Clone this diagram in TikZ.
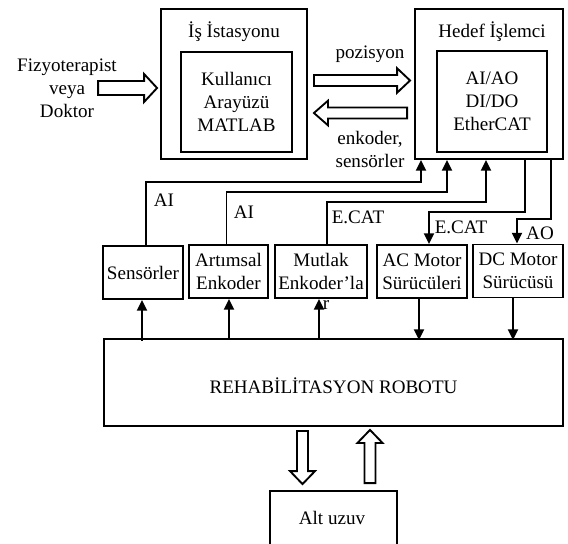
\documentclass[tikz,border=0pt]{standalone}
\usepackage{fontspec}
\setmainfont{Liberation Serif}
\usetikzlibrary{arrows.meta,calc}
\tikzset{
  box/.style 2 args={draw, line width=1.4pt, align=center, inner sep=0pt,
    minimum width=#1*0.75pt, minimum height=#2*0.75pt},
  txt/.style={align=center, inner sep=0pt},
  conn/.style={line width=1.4pt, -{Triangle[length=8pt,width=7.5pt]}},
  hollow/.style={draw, line width=1.4pt, line join=miter, fill=white},
}
\newcommand{\hollowarr}[5]{%
  \coordinate (hA) at (#1);
  \coordinate (hB) at (#2);
  \coordinate (hH) at ($(hB)!#5!(hA)$);
  \draw[hollow] ($(hA)!#3!90:(hB)$) -- ($(hH)!#3!90:(hB)$) -- ($(hH)!#4!90:(hB)$)
    -- (hB) -- ($(hH)!#4!-90:(hB)$) -- ($(hH)!#3!-90:(hB)$) -- ($(hA)!#3!-90:(hB)$) -- cycle;
}
\begin{document}
\begin{tikzpicture}[x=0.75pt, y=-0.75pt, font=\fontsize{14.3}{17.25}\selectfont]
\useasboundingbox (0,0) rectangle (568,543);

% workstation
\node[box={146}{150}] (ws) at (234,84) {};
\node[txt] (wst) at (234,32) {İş İstasyonu};
\node[box={111}{100}] (ui) at (236.5,102) {Kullanıcı\\Arayüzü\\MATLAB};

% target processor
\node[box={148}{150}] (tp) at (489,84) {};
\node[txt] (tpt) at (492,32) {Hedef İşlemci};
\node[box={110}{101}] (io) at (492,101.5) {AI/AO\\DI/DO\\EtherCAT};

% operator
\node[txt] (fz) at (67,88) {Fizyoterapist\\veya\\Doktor};

% middle boxes
\node[box={80}{53}] (sens) at (143,272.5) {Sensörler};
\node[box={79}{53}] (art) at (228.5,271.5) {Artımsal\\Enkoder};
\node[box={92}{53}] (mut) at (321,271.5) {Mutlak\\Enkoder’la};
\node[txt] (mutr) at (326,305) {r};
\node[box={90}{53}] (ac) at (422,271.5) {AC Motor\\Sürücüleri};
\node[box={90}{53}] (dc) at (518,271) {DC Motor\\Sürücüsü};

% robot and limb
\node[box={459}{87}] (robot) at (333.5,382.5) {};
\node[txt] (robott) at (333.5,386) {REHABİLİTASYON ROBOTU};
\node[box={127}{68}] (alt) at (333.5,525) {};
\node[txt] (altt) at (332,518) {Alt uzuv};

% hollow arrows
\hollowarr{$(ws.west)+(-62,4)$}{$(ws.west)+(-3,4)$}{5.25pt}{10.5pt}{9.75pt}
\hollowarr{$(ws.east)+(6,-3.5)$}{$(tp.west)+(-4,-3.5)$}{4.1pt}{9.2pt}{9.75pt}
\hollowarr{$(tp.west)+(-7,29)$}{$(ws.east)+(6,29)$}{4.1pt}{9.2pt}{10.5pt}
\hollowarr{$(robot.south)+(-31,4)$}{$(alt.north)+(-31,-6)$}{4.1pt}{9.4pt}{9.75pt}
\hollowarr{$(alt.north)+(36.5,-7)$}{$(robot.south)+(36.5,3)$}{4.1pt}{9.4pt}{9.75pt}

\node[txt] (lpoz) at (370,54) {pozisyon};
\node[txt] (lenk) at (370,149.5) {enkoder,\\sensörler};

% signal lines to/from target processor
\draw[conn] ($(sens.north)+(3,0)$) -- ++(0,-63) -| ($(tp.south)+(-68,0)$);
\draw[conn] ($(art.north)+(-2,0)$) -- ++(0,-52) -| ($(tp.south)+(-42,0)$);
\draw[conn] ($(mut.north)+(6,0)$) -- ++(0,-42) -| ($(tp.south)+(-3,0)$);
\draw[conn] ($(tp.south)+(36,0)$) -- ++(0,52) -| ($(ac.north)+(7,0)$);
\draw[conn] ($(tp.south)+(62,0)$) -- ++(0,59) -| ($(dc.north)+(-1,0)$);

\node[txt] (lai1) at (164,200) {AI};
\node[txt] (lai2) at (244,212) {AI};
\node[txt] (lec1) at (358,217) {E.CAT};
\node[txt] (lec2) at (461,227) {E.CAT};
\node[txt] (lao) at (540,233) {AO};

% robot to sensors / drives to robot
\draw[conn] ($(sens.south)+(-1,0)$) ++(0,41) -- ($(sens.south)+(-1,0)$);
\draw[conn] ($(art.south)+(0.5,0)$) ++(0,41) -- ($(art.south)+(0.5,0)$);
\draw[conn] ($(mut.south)+(-2,0)$) ++(0,41) -- ($(mut.south)+(-2,0)$);
\draw[conn] ($(ac.south)+(-3,0)$) -- ++(0,41);
\draw[conn] ($(dc.south)+(-5,0)$) -- ++(0,41.5);
\end{tikzpicture}
\end{document}
